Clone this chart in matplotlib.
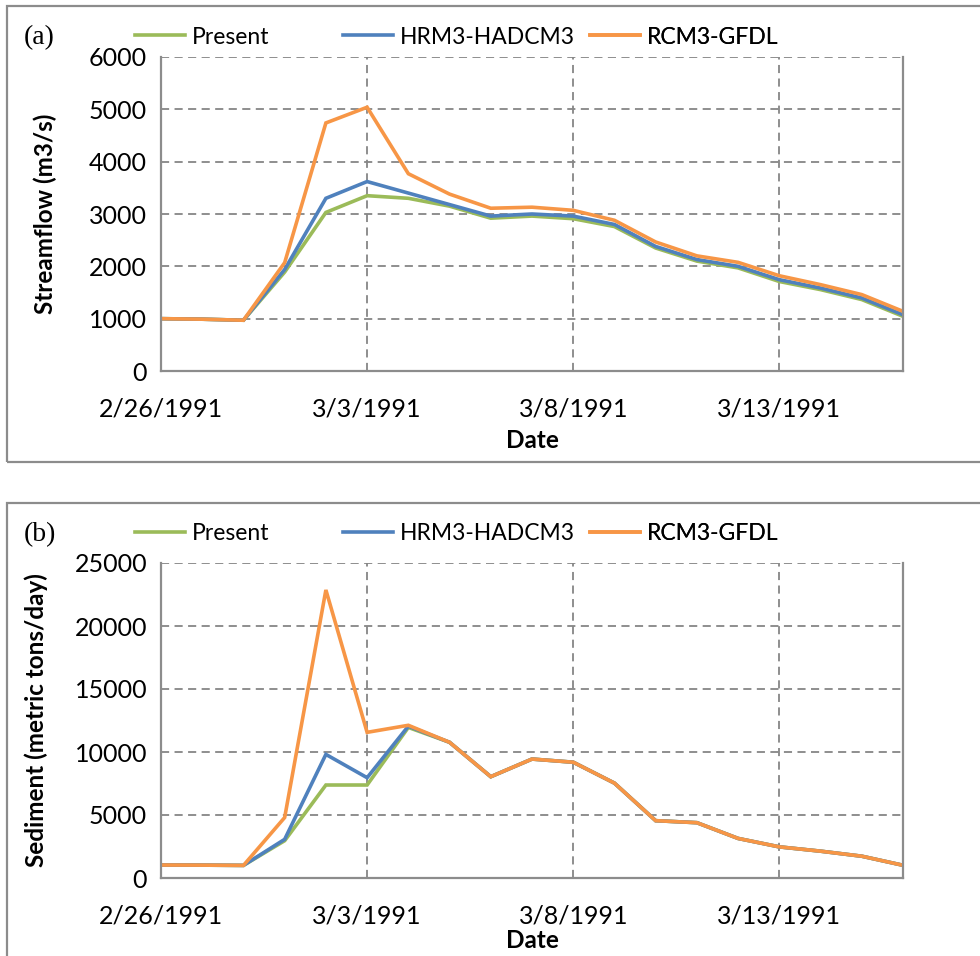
import matplotlib
matplotlib.use("Agg")
import matplotlib.pyplot as plt
from matplotlib.patches import Rectangle

# ── Données ───────────────────────────────────────────────────────────────
dates = ["2/26/1991", "2/27/1991", "2/28/1991", "3/1/1991", "3/2/1991",
         "3/3/1991", "3/4/1991", "3/5/1991", "3/6/1991", "3/7/1991",
         "3/8/1991", "3/9/1991", "3/10/1991", "3/11/1991", "3/12/1991",
         "3/13/1991", "3/14/1991", "3/15/1991", "3/16/1991"]
series_names = ["Present", "HRM3-HADCM3", "RCM3-GFDL"]

flow_present = [1000, 990, 970, 1890, 3030, 3350, 3300, 3150, 2920, 2960,
                2910, 2760, 2350, 2100, 1970, 1710, 1555, 1365, 1045]
flow_hrm3 = [1000, 990, 970, 1940, 3300, 3620, 3400, 3180, 2960, 3000,
             2960, 2800, 2380, 2130, 2000, 1745, 1585, 1395, 1075]
flow_rcm3 = [1000, 990, 970, 2070, 4740, 5040, 3770, 3380, 3110, 3130,
             3070, 2880, 2465, 2200, 2076, 1820, 1650, 1460, 1140]

sed_present = [1030, 1020, 1000, 2960, 7380, 7380, 11950, 10770, 8040, 9440,
               9190, 7530, 4550, 4390, 3140, 2470, 2130, 1730, 1010]
sed_hrm3 = [1030, 1020, 1000, 3070, 9810, 7960, 12050, 10770, 8040, 9440,
            9190, 7530, 4550, 4390, 3140, 2470, 2130, 1730, 1010]
sed_rcm3 = [1030, 1020, 1000, 4800, 22860, 11560, 12120, 10770, 8040, 9440,
            9190, 7530, 4550, 4390, 3140, 2470, 2130, 1730, 1010]

flow_ticks = [0, 1000, 2000, 3000, 4000, 5000, 6000]
sed_ticks = [0, 5000, 10000, 15000, 20000, 25000]
date_ticks = [0, 5, 10, 15]

# ── Style ────────────────────────────────────────────────────────────────
COLORS = ["#9BBB59", "#4F81BD", "#F79646"]
GRIDC = "#868686"
FRAME = "#8c8c8c"
FONT = "Lato"
FS = 18
LEG_FS = 16.5
LEG_X = [135, 343, 590]   # début de chaque entrée de légende (px)

W, H = 980, 956
fig = plt.figure(figsize=(W / 100, H / 100), dpi=100)
fig.patch.set_facecolor("white")


def fx(px):
    return px / W


def fy(py):
    return 1 - py / H


def panel(top, bottom, box_top, box_bottom, tag, series, yticks, ylabel,
          ylab_x, xlab_y):
    # cadre extérieur
    fig.add_artist(Rectangle((fx(7), fy(box_bottom)), fx(1000) - fx(7),
                             fy(box_top) - fy(box_bottom), transform=fig.transFigure,
                             facecolor="none", edgecolor=FRAME, lw=1.6))
    ax = fig.add_axes([fx(161), fy(bottom), fx(903) - fx(161), fy(top) - fy(bottom)])
    x = list(range(len(dates)))
    lines = []
    for vals, name, c in zip(series, series_names, COLORS):
        ln, = ax.plot(x, vals, color=c, lw=2.6, label=name, solid_joinstyle="miter")
        lines.append(ln)
    ax.set_xlim(0, len(dates) - 1)
    ax.set_ylim(yticks[0], yticks[-1])
    ax.set_yticks(yticks)
    ax.set_xticks(date_ticks)
    ax.set_xticklabels([dates[i] for i in date_ticks])
    ax.grid(True, color=GRIDC, ls=(0, (4.5, 3)), lw=1.3)
    ax.tick_params(length=0, labelsize=FS, pad=10)
    ax.tick_params(axis="x", pad=19)
    for lab in ax.get_xticklabels() + ax.get_yticklabels():
        lab.set_fontfamily(FONT)
    for s in ("left", "bottom", "right"):
        ax.spines[s].set_color(FRAME)
        ax.spines[s].set_linewidth(1.6)
    ax.spines["top"].set_visible(False)
    ax.set_axisbelow(True)

    fig.text(fx(ylab_x), fy((top + bottom) / 2), ylabel, rotation=90, ha="center",
             va="center", fontsize=FS - 0.5, fontweight="bold", family=FONT)
    fig.text(fx(532), fy(xlab_y), "Date", ha="center", va="center", fontsize=FS - 0.5,
             fontweight="bold", family=FONT)
    fig.text(fx(24), fy(box_top + 32), tag, ha="left", va="center", fontsize=20,
             family="Liberation Serif")
    # légende : une entrée par emplacement, comme Excel
    for ln, lx in zip(lines, LEG_X):
        leg = ax.legend([ln], [ln.get_label()], loc="center left",
                        bbox_to_anchor=(fx(lx), fy(box_top + 31)),
                        bbox_transform=fig.transFigure, frameon=False,
                        prop={"family": FONT, "size": LEG_FS}, handlelength=2.2,
                        handletextpad=0.3, borderaxespad=0, borderpad=0)
        ax.add_artist(leg)
    return ax


panel(57, 371, 6, 462, "(a)", [flow_present, flow_hrm3, flow_rcm3], flow_ticks,
      "Streamflow (m3/s)", 45, 441)
panel(563, 878, 503, 990, "(b)", [sed_present, sed_hrm3, sed_rcm3], sed_ticks,
      "Sediment (metric tons/day)", 36, 941)

fig.savefig("out.png", dpi=100, facecolor="white")
